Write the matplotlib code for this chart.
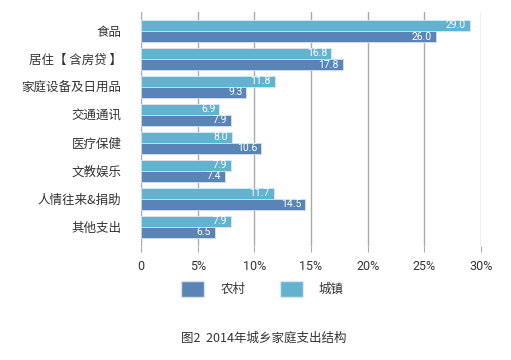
import numpy as np
import matplotlib.pyplot as plt
from matplotlib.patches import Patch

plt.rcParams['font.family'] = ['Noto Sans CJK SC', 'DejaVu Sans']

categories = ['食品', '居住【 含房贷 】', '家庭设备及日用品', '交通通讯',
              '医疗保健', '文教娱乐', '人情往来&捐助', '其他支出']
rural = [26.0, 17.8, 9.3, 7.9, 10.6, 7.4, 14.5, 6.5]
urban = [29.0, 16.8, 11.8, 6.9, 8.0, 7.9, 11.7, 7.9]
xticks = [0, 5, 10, 15, 20, 25, 30]
xticklabels = ['0', '5%', '10%', '15%', '20%', '25%', '30%']

rural_color = '#5b84b6'
urban_color = '#63b2cf'
text_color = '#333333'
num_font = ['Roboto', 'DejaVu Sans']

fig = plt.figure(figsize=(5.11, 3.6), dpi=100)
ax = fig.add_axes([0.276, 0.317, 0.665, 0.650])

y = np.arange(len(categories))
h = 0.4
b_urban = ax.barh(y - h / 2, urban, height=h, color=urban_color,
                  edgecolor='#d8e8f0', linewidth=0.6, zorder=3)
b_rural = ax.barh(y + h / 2, rural, height=h, color=rural_color,
                  edgecolor='#d8e0ec', linewidth=0.6, zorder=3)

for bars, vals in [(b_urban, urban), (b_rural, rural)]:
    for bar, v in zip(bars, vals):
        ax.text(v - 0.35, bar.get_y() + bar.get_height() / 2, f'{v:.1f}',
                ha='right', va='center', color='white', fontsize=7.5,
                family=num_font, zorder=4)

ax.set_xlim(0, 30)
ax.set_ylim(len(categories) - 1 + 0.68, -0.68)
ax.set_xticks(xticks)
ax.set_xticklabels(xticklabels, fontsize=9, color=text_color, family=num_font)
ax.set_yticks(y)
ax.set_yticklabels(categories, fontsize=9, color=text_color)
ax.tick_params(axis='y', length=0, pad=14)
ax.tick_params(axis='x', length=4, color='#aaaaaa', pad=6)
ax.grid(axis='x', color='#aaaaaa', linewidth=1, zorder=0)
for s in ax.spines.values():
    s.set_visible(False)

handles = [Patch(facecolor=rural_color, edgecolor='#d8e0ec', label='农村'),
           Patch(facecolor=urban_color, edgecolor='#d8e8f0', label='城镇')]
fig.legend(handles=handles, loc='center left', bbox_to_anchor=(0.355, 0.197),
           ncol=2, frameon=False, fontsize=9, handlelength=1.8,
           handleheight=1.6, handletextpad=1.3, columnspacing=2.8,
           labelcolor=text_color, borderaxespad=0, borderpad=0)

fig.text(0.354, 0.061, '图2  2014年城乡家庭支出结构', fontsize=9,
         color=text_color, va='center', ha='left')

fig.savefig('out.png', dpi=100)
